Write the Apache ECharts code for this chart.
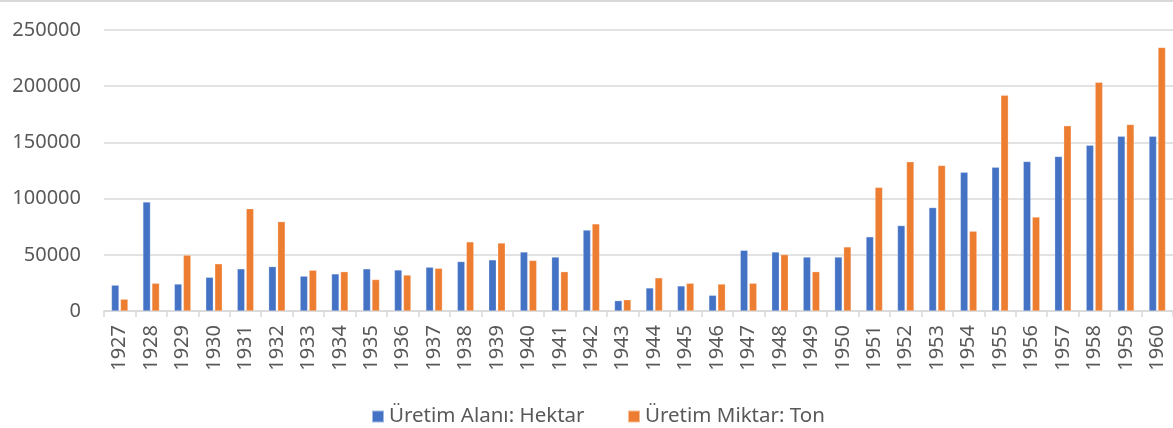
<!DOCTYPE html>
<html>
<head>
<meta charset="utf-8">
<script src="https://cdn.jsdelivr.net/npm/echarts@6/dist/echarts.min.js"></script>
<style>
  html, body { margin: 0; padding: 0; background: #fff; }
  #chart { width: 1173px; height: 428px; box-sizing: border-box; border-top: 2px solid #d9d9d9; }
</style>
</head>
<body>
<div id="chart"></div>
<script>
const years = ['1927','1928','1929','1930','1931','1932','1933','1934','1935','1936','1937','1938','1939','1940','1941','1942','1943','1944','1945','1946','1947','1948','1949','1950','1951','1952','1953','1954','1955','1956','1957','1958','1959','1960'];
const alanHektar = [23000, 97000, 24000, 30000, 37500, 39500, 31000, 33000, 37500, 36500, 39000, 44000, 45500, 52500, 48000, 72000, 9200, 20500, 22300, 14000, 54000, 52500, 48000, 48000, 66000, 76000, 92000, 123500, 128000, 133000, 137500, 147500, 155500, 155500];
const miktarTon = [10500, 24700, 49700, 42000, 91000, 79500, 36300, 35000, 28000, 32000, 38000, 61500, 60500, 45000, 35000, 77500, 10000, 29500, 24700, 24000, 24700, 50200, 35000, 57000, 110000, 132800, 129500, 71000, 192000, 83600, 164800, 203500, 166000, 234500];
const seriesNames = ['Üretim Alanı: Hektar', 'Üretim Miktar: Ton'];
const yTicks = { min: 0, max: 250000, interval: 50000 };

const chart = echarts.init(document.getElementById('chart'));
const font = 'Noto Sans';
const legendBase = {
  top: 399,
  icon: 'rect',
  itemWidth: 12,
  itemHeight: 12,
  textStyle: { fontSize: 20.5, color: '#595959', fontFamily: font }
};
chart.setOption({
  animation: false,
  textStyle: { fontFamily: font },
  color: ['#4472C4', '#ED7D31'],
  grid: { left: 104, right: 0, top: 28, bottom: 117 },
  legend: [
    Object.assign({}, legendBase, { left: 366, data: [seriesNames[0]] }),
    Object.assign({}, legendBase, { left: 622, data: [seriesNames[1]] })
  ],
  xAxis: {
    type: 'category',
    data: years,
    axisLine: { lineStyle: { color: '#d9d9d9', width: 1.5 } },
    axisTick: { show: true, length: 6, lineStyle: { color: '#d9d9d9', width: 1.5 } },
    axisLabel: { rotate: 90, fontSize: 20, color: '#595959', margin: 14, fontFamily: font }
  },
  yAxis: {
    type: 'value',
    min: yTicks.min,
    max: yTicks.max,
    interval: yTicks.interval,
    axisLine: { show: false },
    axisTick: { show: false },
    splitLine: { lineStyle: { color: '#d9d9d9', width: 1.5 } },
    axisLabel: { fontSize: 20, color: '#595959', margin: 23, fontFamily: font,
      formatter: function (v) { return String(v); } }
  },
  series: [
    { name: seriesNames[0], type: 'bar', data: alanHektar, barWidth: 7.5, barGap: '20%',
      itemStyle: { borderColor: 'rgba(255,255,255,0.5)', borderWidth: 0.5 } },
    { name: seriesNames[1], type: 'bar', data: miktarTon, barWidth: 7.5, barGap: '20%',
      itemStyle: { borderColor: 'rgba(255,255,255,0.5)', borderWidth: 0.5 } }
  ]
});
</script>
</body>
</html>
